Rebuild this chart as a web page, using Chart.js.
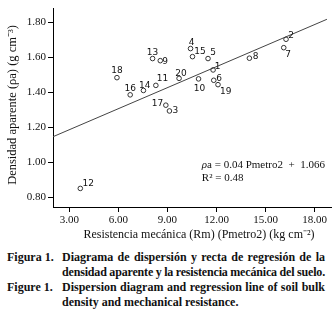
<!DOCTYPE html>
<html>
<head>
<meta charset="utf-8">
<script src="https://cdn.jsdelivr.net/npm/chart.js@4.4.1/dist/chart.umd.min.js"></script>
<style>
  body { margin: 0; background: #fff; width: 336px; height: 314px; overflow: hidden; }
  #wrap { width: 336px; height: 250px; }
  .cap { font-family: "Liberation Serif", "Times New Roman", serif; font-weight: bold; font-size: 12px; line-height: 15px; color: #111; position: relative; }
  .row { display: flex; }
  .lab { width: 55px; padding-left: 7px; white-space: nowrap; }
  .txt { width: 263px; }
  .j { text-align: justify; text-align-last: justify; white-space: nowrap; }
  .tight { letter-spacing: -0.17px; word-spacing: -0.3px; }
</style>
</head>
<body>
<div id="wrap"><canvas id="c" width="336" height="250"></canvas></div>
<div class="cap">
  <div class="row"><div class="lab">Figura 1.</div><div class="txt"><div class="j">Diagrama de dispersión y recta de regresión de la</div><div class="j tight">densidad aparente y la resistencia mecánica del suelo.</div></div></div>
  <div class="row"><div class="lab">Figure 1.</div><div class="txt"><div class="j">Dispersion diagram and regression line of soil bulk</div><div>density and mechanical resistance.</div></div></div>
</div>
<script>
// --- data ---
const pointIds = ["1","2","3","4","5","6","7","8","9","10","11","12","13","14","15","16","17","18","19","20"];
const resistance = [11.79, 16.25, 9.12, 10.41, 11.48, 11.83, 16.11, 14.01, 8.56, 10.90, 8.29, 3.67, 8.09, 7.53, 10.53, 6.72, 8.90, 5.91, 12.09, 9.71];
const density = [1.527, 1.702, 1.293, 1.649, 1.592, 1.468, 1.654, 1.594, 1.580, 1.476, 1.439, 0.851, 1.592, 1.410, 1.603, 1.385, 1.326, 1.483, 1.443, 1.479];
const fitX = [2.0, 18.75];
const fitY = [1.146, 1.816];
const xTicks = [3, 6, 9, 12, 15, 18];
const yTicks = [0.8, 1.0, 1.2, 1.4, 1.6, 1.8];
const eqText = "a = 0.04 Pmetro2  +  1.066";
const r2Text = "R² = 0.48";

// label placement next to each point: [dx, dy, align]
const labelPos = [
  [1.7, -0.7, "left"], [2.3, -1.3, "left"], [3, 1.6, "left"], [1, -3.4, "center"],
  [2.3, -3.7, "left"], [2.6, 0.3, "left"], [1.4, 9.3, "left"], [3.3, 0.6, "left"],
  [2, 3, "left"], [1, 11.7, "center"], [1, -4, "left"], [2.3, -2.7, "left"],
  [0, -4, "center"], [1.3, -2.3, "center"], [1.7, -2.7, "left"], [0, -4, "center"],
  [-2.6, 1, "right"], [0, -4.3, "center"], [2, 9.7, "left"], [2, -2.7, "center"]
];

const serif = '"Liberation Serif", "Times New Roman", serif';

const extras = {
  id: "extras",
  afterDatasetsDraw(chart) {
    const ctx = chart.ctx;
    const xs = chart.scales.x, ys = chart.scales.y;
    ctx.save();
    // point numbers
    ctx.fillStyle = "#111";
    ctx.font = '9px "DejaVu Sans", sans-serif';
    ctx.textBaseline = "alphabetic";
    pointIds.forEach((id, i) => {
      const px = xs.getPixelForValue(resistance[i]);
      const py = ys.getPixelForValue(density[i]);
      const p = labelPos[i];
      ctx.textAlign = p[2];
      ctx.fillText(id, px + p[0], py + p[1]);
    });
    // equation
    ctx.textAlign = "left";
    const ex = xs.getPixelForValue(11.1);
    ctx.font = "italic 11px " + serif;
    ctx.fillText("ρ", ex, ys.getPixelForValue(0.966));
    const w = ctx.measureText("ρ").width;
    ctx.font = "11px " + serif;
    ctx.fillText(eqText, ex + w, ys.getPixelForValue(0.966));
    ctx.fillText(r2Text, ex, ys.getPixelForValue(0.893));
    // axis titles
    ctx.font = "12px " + serif;
    ctx.textAlign = "center";
    ctx.textBaseline = "middle";
    ctx.fillText("Resistencia mecánica (Rm) (Pmetro2) (kg cm⁻²)", 199, 235);
    ctx.translate(13, 105);
    ctx.rotate(-Math.PI / 2);
    ctx.font = "12.5px " + serif;
    ctx.fillText("Densidad aparente (ρa) (g cm⁻³)", 0, 0);
    ctx.restore();
  }
};

new Chart(document.getElementById("c"), {
  data: {
    datasets: [
      {
        type: "scatter",
        data: resistance.map((x, i) => ({ x: x, y: density[i] })),
        pointStyle: "circle",
        pointRadius: 2.3,
        pointBorderWidth: 1,
        pointBorderColor: "#333",
        pointBackgroundColor: "rgba(0,0,0,0)",
      },
      {
        type: "line",
        data: fitX.map((x, i) => ({ x: x, y: fitY[i] })),
        borderColor: "#444",
        borderWidth: 1,
        pointRadius: 0,
        fill: false,
      },
    ],
  },
  options: {
    responsive: false,
    animation: false,
    layout: { padding: { top: 0, right: 2, left: 0, bottom: 0 } },
    plugins: { legend: { display: false }, tooltip: { enabled: false } },
    scales: {
      x: {
        type: "linear",
        min: 2,
        max: 19,
        afterBuildTicks: (s) => { s.ticks = xTicks.map((v) => ({ value: v })); },
        afterFit: (s) => { s.height = 43; },
        grid: { drawOnChartArea: false, drawTicks: true, tickLength: 5, color: "#000" },
        border: { display: true, color: "#000", width: 1 },
        ticks: {
          color: "#111",
          padding: 2,
          maxRotation: 0,
          font: { family: serif, size: 11 },
          callback: (v) => v.toFixed(2),
        },
      },
      y: {
        type: "linear",
        min: 0.745,
        max: 1.877,
        afterBuildTicks: (s) => { s.ticks = yTicks.map((v) => ({ value: v })); },
        afterFit: (s) => { s.width = 53; },
        grid: { drawOnChartArea: false, drawTicks: true, tickLength: 5, color: "#000" },
        border: { display: true, color: "#000", width: 1 },
        ticks: {
          color: "#111",
          padding: 2,
          font: { family: serif, size: 11 },
          callback: (v) => v.toFixed(2),
        },
      },
    },
  },
  plugins: [extras],
});
</script>
</body>
</html>
